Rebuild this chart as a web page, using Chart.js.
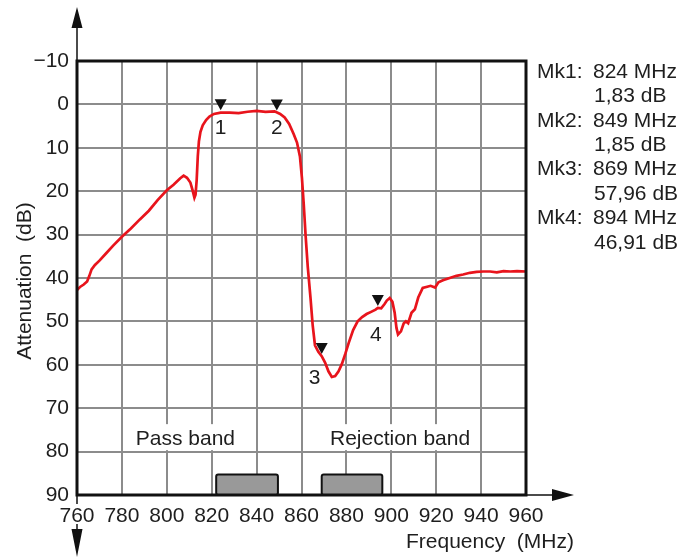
<!DOCTYPE html>
<html>
<head>
  <meta charset="UTF-8"/>
  <title>Filter attenuation</title>
  <style>
    body { margin: 0; background: #fff; }
    #wrap { width: 683px; height: 559px; position: relative; }
  </style>
  <script src="https://cdn.jsdelivr.net/npm/chart.js"></script>
</head>
<body>
<div id="wrap"><canvas id="myChart"></canvas></div>
<script>
  // measured response (MHz / dB)
  const freq = [760, 761.5, 763, 764.5, 765.5, 766.5, 768, 770, 773, 776, 780, 784, 788, 792, 796, 800,
    803, 806, 807.5, 809, 810.5, 811.5, 812.3, 812.8, 813.3, 813.8, 814.3, 815, 816, 817.5, 819, 821,
    824, 828, 832, 836, 840, 844, 848, 850.5, 852.5, 854.5, 856.5, 858, 859.3, 860.2, 861, 861.8,
    862.8, 864, 865, 866, 867.5, 869, 870.5, 872, 873.5, 875, 876.5, 878, 879.5, 881, 883, 885, 887,
    889, 891, 893, 894, 895.5, 897, 898, 899.3, 900.5, 901.5, 902.3, 903, 904.3, 905.5, 906.5, 907.5,
    909, 910.5, 912, 914, 916, 917.5, 919.5, 921, 923, 926, 929, 932, 935, 938, 941, 944, 947, 950,
    953, 956, 960];
  const atten = [42.8, 42.0, 41.5, 40.8, 39.5, 38.0, 37.0, 36.0, 34.3, 32.6, 30.5, 28.6, 26.5, 24.5, 22.0, 19.8,
    18.5, 17.0, 16.4, 16.9, 18.0, 19.8, 21.5, 20.8, 17.5, 12.0, 8.5, 6.3, 4.8, 3.6, 2.8, 2.2,
    1.9, 1.9, 2.0, 1.7, 1.5, 1.7, 1.6, 2.2, 3.0, 4.5, 6.8, 8.8, 12.0, 17.0, 23.0, 30.0,
    37.5, 44.5, 51.0, 55.5, 57.0, 58.0, 59.5, 61.5, 62.8, 62.6, 61.5, 59.8, 57.5, 55.0, 52.0, 50.0, 49.0,
    48.3, 47.8, 47.3, 46.9, 47.0, 46.0, 45.2, 44.6, 45.5, 48.0, 51.5, 53.0, 52.3, 50.5, 50.0, 50.4,
    48.0, 47.2, 44.5, 42.3, 42.0, 41.8, 42.2, 41.0, 40.5, 40.0, 39.5, 39.2, 38.8, 38.6, 38.5, 38.5, 38.7, 38.4,
    38.5, 38.4, 38.5];

  const xTicks = [760, 780, 800, 820, 840, 860, 880, 900, 920, 940, 960];
  const yTicks = [-10, 0, 10, 20, 30, 40, 50, 60, 70, 80, 90];

  // markers
  const mkFreq = [824, 849, 869, 894];
  const mkAtten = [1.83, 1.85, 57.96, 46.91];

  // pass / rejection bands
  const bandNames = ['Pass band', 'Rejection band'];
  const bandFrom = [822, 869];
  const bandTo = [849.5, 896];

  const FONT = '"Liberation Sans", Arial, Helvetica, sans-serif';
  const TXT = '#1e1e1e';

  const decor = {
    id: 'decor',
    afterDraw(chart) {
      const { ctx, chartArea: a, scales: { x, y } } = chart;
      ctx.save();

      // band boxes at the bottom
      ctx.lineWidth = 2;
      ctx.strokeStyle = '#111';
      ctx.fillStyle = '#999';
      bandFrom.forEach((f, i) => {
        const x0 = x.getPixelForValue(f), x1 = x.getPixelForValue(bandTo[i]);
        const y0 = y.getPixelForValue(85.3), y1 = y.getPixelForValue(90);
        ctx.beginPath();
        ctx.roundRect(x0, y0, x1 - x0, y1 - y0, 2);
        ctx.fill();
        ctx.stroke();
      });

      // band names with white backing
      ctx.font = '21px ' + FONT;
      ctx.textBaseline = 'middle';
      ctx.textAlign = 'center';
      const nameX = [808.3, 903.9];
      bandNames.forEach((n, i) => {
        const cx = x.getPixelForValue(nameX[i]), cy = y.getPixelForValue(76.9);
        const w = ctx.measureText(n).width;
        ctx.fillStyle = '#fff';
        ctx.fillRect(cx - w / 2 - 3, cy - 14, w + 6, 26);
        ctx.fillStyle = TXT;
        ctx.fillText(n, cx, cy + 1);
      });

      // frame
      ctx.strokeStyle = '#111';
      ctx.lineWidth = 3;
      ctx.strokeRect(a.left, a.top, a.right - a.left, a.bottom - a.top);

      // axis arrows
      ctx.lineWidth = 1.5;
      ctx.beginPath();
      ctx.moveTo(a.left, a.top); ctx.lineTo(a.left, 24);
      ctx.moveTo(a.left, a.bottom); ctx.lineTo(a.left, 504);
      ctx.moveTo(a.left, 524); ctx.lineTo(a.left, 532);
      ctx.moveTo(a.right, a.bottom); ctx.lineTo(556, a.bottom);
      ctx.stroke();
      ctx.fillStyle = '#111';
      ctx.beginPath();
      ctx.moveTo(a.left, 7); ctx.lineTo(a.left - 5.5, 28); ctx.lineTo(a.left + 5.5, 28); ctx.closePath();
      ctx.moveTo(a.left, 557); ctx.lineTo(a.left - 5.5, 529); ctx.lineTo(a.left + 5.5, 529); ctx.closePath();
      ctx.moveTo(574, a.bottom); ctx.lineTo(552, a.bottom - 6); ctx.lineTo(552, a.bottom + 6); ctx.closePath();
      ctx.fill();

      // markers
      const lblDx = [0, 0, -7, -2];
      const lblDy = [16, 16, 22, 27];
      ctx.font = '21px ' + FONT;
      mkFreq.forEach((f, i) => {
        const px = x.getPixelForValue(f), py = y.getPixelForValue(mkAtten[i]);
        ctx.fillStyle = '#111';
        ctx.beginPath();
        ctx.moveTo(px, py - 2); ctx.lineTo(px - 6, py - 13); ctx.lineTo(px + 6, py - 13); ctx.closePath();
        ctx.fill();
        ctx.fillStyle = TXT;
        ctx.fillText(String(i + 1), px + lblDx[i], py + lblDy[i]);
      });

      // marker readout
      ctx.textAlign = 'left';
      mkFreq.forEach((f, i) => {
        const ry = 72 + i * 48.8;
        ctx.fillText('Mk' + (i + 1) + ':', 537, ry);
        ctx.fillText(f + ' MHz', 593, ry);
        ctx.fillText(mkAtten[i].toFixed(2).replace('.', ',') + ' dB', 594, ry + 24.4);
      });

      // axis titles
      ctx.textAlign = 'right';
      ctx.fillText('Frequency  (MHz)', 574, 542);
      ctx.translate(25, 281);
      ctx.rotate(-Math.PI / 2);
      ctx.textAlign = 'center';
      ctx.fillText('Attenuation  (dB)', 0, 0);

      ctx.restore();
    }
  };

  const ctx = document.getElementById('myChart').getContext('2d');
  const chart = new Chart(ctx, {
    type: 'line',
    data: {
      datasets: [{
        data: freq.map((f, i) => ({ x: f, y: atten[i] })),
        borderColor: '#e8141c',
        borderWidth: 2.7,
        pointRadius: 0,
        tension: 0,
        fill: false
      }]
    },
    options: {
      responsive: true,
      maintainAspectRatio: false,
      animation: false,
      layout: { padding: { left: 0, top: 61, right: 157, bottom: 0 } },
      plugins: { legend: { display: false }, tooltip: { enabled: false } },
      scales: {
        x: {
          type: 'linear', min: 760, max: 960,
          afterBuildTicks: s => { s.ticks = xTicks.map(v => ({ value: v })); },
          afterFit: s => { s.height = 64; },
          grid: { color: '#8c8c8c', lineWidth: 2, drawTicks: false },
          border: { display: false },
          ticks: { padding: 9, color: TXT, font: { size: 21, family: FONT }, maxRotation: 0 }
        },
        y: {
          type: 'linear', min: -10, max: 90, reverse: true,
          afterBuildTicks: s => { s.ticks = yTicks.map(v => ({ value: v })); },
          afterFit: s => { s.width = 77; },
          grid: { color: '#8c8c8c', lineWidth: 2, drawTicks: false },
          border: { display: false },
          ticks: {
            padding: 8, color: TXT, font: { size: 21, family: FONT },
            callback: v => String(v).replace('-', '\u2212')
          }
        }
      }
    },
    plugins: [decor]
  });
</script>
</body>
</html>
